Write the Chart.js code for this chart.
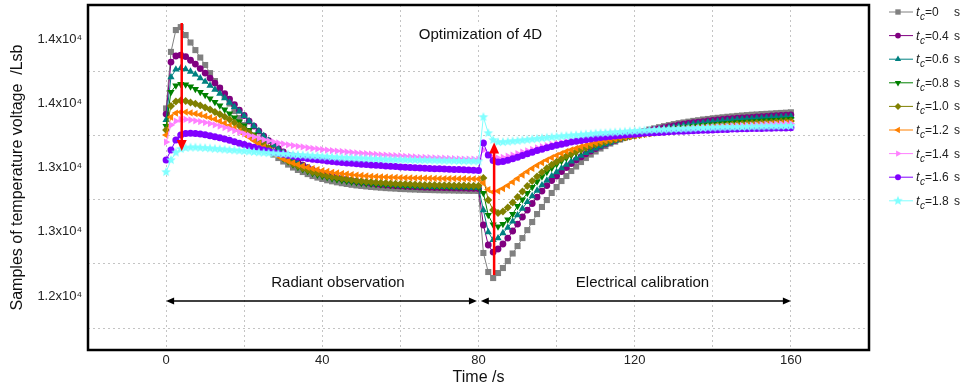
<!DOCTYPE html>
<html>
<head>
<meta charset="utf-8">
<script src="https://cdn.jsdelivr.net/npm/chart.js@4.4.0/dist/chart.umd.min.js"></script>
<style>
  html, body { margin: 0; padding: 0; background: #fff; }
  #wrap { width: 963px; height: 391px; }
</style>
</head>
<body>
<div id="wrap"><canvas id="chart" width="963" height="391"></canvas></div>
<script>
// temps (s), un echantillon toutes les 1.25 s
const times = [0,1.25,2.5,3.75,5,6.25,7.5,8.75,10,11.25,12.5,13.75,15,16.25,17.5,18.75,20,21.25,22.5,23.75,25,26.25,27.5,28.75,30,31.25,32.5,33.75,35,36.25,37.5,38.75,40,41.25,42.5,43.75,45,46.25,47.5,48.75,50,51.25,52.5,53.75,55,56.25,57.5,58.75,60,61.25,62.5,63.75,65,66.25,67.5,68.75,70,71.25,72.5,73.75,75,76.25,77.5,78.75,80,81.25,82.5,83.75,85,86.25,87.5,88.75,90,91.25,92.5,93.75,95,96.25,97.5,98.75,100,101.25,102.5,103.75,105,106.25,107.5,108.75,110,111.25,112.5,113.75,115,116.25,117.5,118.75,120,121.25,122.5,123.75,125,126.25,127.5,128.75,130,131.25,132.5,133.75,135,136.25,137.5,138.75,140,141.25,142.5,143.75,145,146.25,147.5,148.75,150,151.25,152.5,153.75,155,156.25,157.5,158.75,160];

const tcLabels = ['0', '0.4', '0.6', '0.8', '1.0', '1.2', '1.4', '1.6', '1.8'];

const tc00 = [13460,13900,14070,14093,14031,13973,13914,13856,13798,13735,13673,13615,13556,13498,13440,13385,13331,13284,13241,13202,13167,13132,13101,13074,13047,13023,13000,12981,12965,12949,12934,12922,12911,12901,12893,12885,12878,12872,12866,12861,12857,12853,12849,12846,12843,12840,12838,12836,12833,12832,12830,12829,12827,12826,12825,12824,12823,12822,12822,12821,12820,12820,12819,12819,12818,
  12335,12187,12140,12179,12218,12272,12331,12389,12451,12513,12576,12638,12693,12747,12802,12848,12895,12934,12973,13008,13043,13074,13101,13125,13148,13167,13187,13202,13218,13233,13249,13261,13272,13284,13296,13305,13314,13322,13330,13338,13345,13351,13357,13363,13368,13374,13378,13383,13387,13391,13395,13398,13402,13405,13408,13411,13413,13416,13418,13420,13423,13425,13427,13430];
const tc04 = [13416,13821,13868,13875,13864,13835,13805,13770,13735,13696,13657,13619,13576,13533,13490,13447,13405,13362,13323,13284,13245,13210,13179,13148,13121,13093,13066,13043,13019,13000,12982,12966,12953,12942,12931,12921,12913,12905,12898,12892,12886,12881,12876,12872,12868,12865,12862,12859,12857,12854,12852,12851,12849,12847,12846,12844,12844,12843,12842,12841,12840,12840,12839,12838,12837,
  12553,12397,12342,12366,12405,12451,12506,12560,12615,12669,12720,12770,12817,12860,12899,12934,12969,13000,13031,13058,13083,13107,13128,13148,13166,13183,13198,13212,13226,13237,13248,13258,13269,13278,13287,13296,13303,13311,13318,13325,13331,13338,13343,13349,13353,13358,13363,13367,13371,13374,13378,13381,13384,13387,13389,13391,13394,13396,13398,13401,13403,13405,13408,13410];
const tc06 = [13370,13704,13763,13774,13766,13747,13724,13696,13669,13638,13607,13576,13541,13506,13471,13436,13401,13362,13323,13284,13245,13210,13175,13144,13113,13086,13058,13035,13013,12995,12977,12963,12949,12938,12928,12918,12911,12904,12897,12892,12887,12883,12879,12875,12872,12868,12866,12864,12861,12859,12858,12856,12855,12853,12852,12851,12851,12850,12849,12848,12847,12847,12846,12846,12845,
  12669,12498,12436,12451,12490,12533,12580,12630,12681,12732,12778,12821,12862,12899,12934,12965,12995,13022,13048,13071,13093,13113,13132,13149,13165,13180,13194,13208,13220,13232,13243,13253,13262,13272,13280,13288,13296,13303,13310,13316,13322,13328,13333,13339,13343,13348,13353,13356,13360,13364,13367,13370,13374,13377,13379,13381,13384,13386,13388,13391,13393,13394,13396,13398];
const tc08 = [13323,13588,13638,13650,13646,13630,13611,13588,13564,13537,13510,13482,13451,13420,13389,13358,13327,13292,13257,13222,13187,13156,13125,13097,13070,13047,13023,13004,12986,12970,12956,12944,12933,12924,12915,12907,12900,12894,12889,12884,12880,12876,12873,12870,12868,12865,12863,12861,12860,12858,12857,12856,12855,12855,12854,12853,12852,12852,12851,12851,12851,12851,12850,12850,12849,
  12802,12630,12556,12541,12560,12595,12638,12700,12751,12802,12848,12891,12930,12965,12996,13025,13051,13074,13095,13114,13132,13149,13163,13177,13189,13201,13212,13222,13231,13240,13248,13256,13263,13270,13276,13283,13288,13293,13299,13304,13308,13313,13317,13321,13325,13328,13332,13335,13338,13342,13345,13348,13351,13353,13356,13358,13360,13363,13365,13367,13370,13372,13374,13377];
const tc10 = [13292,13479,13514,13521,13518,13507,13496,13482,13467,13451,13433,13415,13395,13373,13349,13325,13298,13270,13241,13212,13182,13153,13125,13099,13074,13051,13030,13012,12995,12980,12966,12955,12945,12935,12927,12920,12914,12908,12903,12898,12894,12890,12887,12884,12881,12879,12876,12874,12872,12871,12869,12868,12866,12865,12865,12864,12863,12862,12862,12861,12860,12860,12859,12859,12858,
  12918,12747,12669,12646,12658,12689,12728,12770,12813,12856,12895,12931,12963,12994,13021,13046,13068,13089,13107,13124,13140,13154,13167,13179,13190,13200,13209,13218,13226,13234,13241,13248,13254,13261,13266,13272,13277,13282,13286,13291,13296,13300,13303,13307,13311,13315,13318,13321,13325,13328,13331,13334,13337,13339,13342,13344,13346,13349,13351,13353,13356,13358,13360,13363];
const tc12 = [13253,13393,13424,13432,13432,13426,13419,13411,13401,13389,13376,13361,13345,13326,13306,13284,13261,13236,13210,13184,13158,13133,13110,13088,13068,13051,13036,13023,13012,13002,12992,12984,12976,12970,12963,12958,12953,12949,12945,12941,12938,12935,12932,12930,12928,12926,12924,12923,12921,12920,12919,12918,12918,12917,12916,12915,12914,12914,12914,12914,12913,12913,12912,12912,12911,
  12879,12829,12809,12817,12836,12860,12887,12914,12942,12968,12993,13016,13038,13058,13077,13094,13110,13125,13138,13150,13162,13173,13183,13192,13201,13209,13217,13224,13231,13237,13243,13249,13254,13260,13265,13269,13274,13278,13282,13286,13289,13293,13296,13299,13302,13305,13308,13311,13313,13315,13318,13320,13322,13325,13327,13329,13332,13334,13336,13339,13341,13343,13346,13348];
const tc14 = [13198,13331,13362,13374,13374,13370,13364,13358,13350,13342,13332,13322,13311,13300,13287,13275,13262,13250,13238,13227,13217,13208,13199,13191,13184,13177,13171,13165,13160,13154,13149,13145,13140,13136,13132,13128,13125,13121,13118,13114,13111,13108,13105,13102,13099,13097,13094,13092,13090,13087,13085,13083,13080,13079,13077,13076,13074,13073,13071,13069,13068,13066,13065,13065,13064,
  13136,13097,13078,13074,13079,13088,13097,13108,13119,13130,13141,13152,13162,13171,13180,13188,13196,13203,13210,13216,13223,13228,13233,13239,13244,13248,13253,13257,13261,13265,13269,13272,13275,13278,13281,13284,13287,13290,13293,13296,13298,13300,13303,13305,13307,13310,13312,13314,13317,13319,13321,13324,13325,13327,13328,13330,13331,13333,13335,13336,13338,13339,13341,13342];
const tc16 = [13058,13136,13214,13253,13265,13266,13265,13261,13255,13247,13240,13231,13222,13212,13201,13190,13179,13168,13157,13147,13137,13128,13119,13110,13103,13096,13089,13083,13076,13071,13065,13061,13056,13051,13047,13044,13040,13036,13033,13030,13026,13023,13020,13017,13015,13012,13010,13008,13005,13003,13001,12998,12996,12994,12993,12991,12990,12988,12987,12985,12984,12982,12981,12979,12977,
  13191,13097,13054,13043,13047,13056,13068,13080,13093,13107,13119,13132,13143,13154,13164,13174,13182,13190,13198,13205,13211,13217,13223,13228,13233,13237,13242,13246,13250,13254,13257,13260,13263,13266,13268,13271,13273,13275,13278,13280,13282,13283,13285,13286,13288,13290,13291,13293,13294,13296,13297,13299,13300,13301,13302,13303,13304,13304,13305,13306,13307,13307,13308,13309];
const tc18 = [12965,13058,13117,13144,13153,13156,13156,13154,13152,13149,13146,13143,13140,13137,13134,13131,13128,13125,13121,13118,13115,13112,13110,13107,13105,13103,13100,13098,13096,13093,13091,13089,13086,13084,13082,13079,13077,13075,13074,13072,13071,13069,13068,13066,13065,13063,13062,13061,13061,13060,13059,13058,13057,13057,13056,13055,13054,13053,13053,13052,13051,13050,13050,13049,13048,
  13393,13268,13214,13198,13198,13201,13205,13208,13212,13216,13220,13224,13228,13232,13236,13240,13243,13246,13249,13252,13255,13258,13261,13265,13267,13269,13272,13274,13276,13279,13281,13283,13286,13288,13290,13293,13294,13296,13297,13299,13300,13302,13303,13305,13307,13308,13310,13311,13312,13313,13314,13314,13315,13316,13317,13318,13318,13319,13320,13321,13321,13322,13323,13324];

const allSeries = [tc00, tc04, tc06, tc08, tc10, tc12, tc14, tc16, tc18];

// graduations
const xTickValues = [0, 40, 80, 120, 160];
const xTickLabels = ['0', '40', '80', '120', '160'];
const xGridValues = [0, 20, 40, 60, 80, 100, 120, 140, 160];
const yTickValues = [12000, 12500, 13000, 13500, 14000];
const yTickLabels = ['1.2x10\u2074', '1.3x10\u2074', '1.3x10\u2074', '1.4x10\u2074', '1.4x10\u2074'];
const yGridValues = [11750, 12250, 12750, 13250, 13750];

// annotations (coordonnees en unites des axes)
const redArrowX = [4, 84];
const redArrowFrom = [14125, 12163];
const redArrowTo = [13128, 13195];
const spanStart = [0, 80.6];
const spanEnd = [79.6, 160];
const spanLevel = 11962;
const spanText = ['Radiant observation', 'Electrical calibration'];
const spanTextX = [44, 122];
const spanTextY = 12105;
const titleText = 'Optimization of 4D';
const titleX = 80.5;
const titleY = 14030;

// styles
const colors = ['#808080', '#800080', '#008080', '#008000', '#808000', '#ff8000', '#ff80ff', '#8000ff', '#80ffff'];
const FONT = '"Liberation Sans", Arial, sans-serif';

function starMarker(color, r) {
    const s = Math.ceil(r * 2 + 2);
    const c = document.createElement('canvas');
    c.width = s; c.height = s;
    const g = c.getContext('2d');
    g.fillStyle = color;
    g.beginPath();
    for (let i = 0; i < 10; i++) {
        const a = -Math.PI / 2 + i * Math.PI / 5;
        const rr = i % 2 ? r * 0.45 : r;
        g.lineTo(s / 2 + rr * Math.cos(a), s / 2 + rr * Math.sin(a));
    }
    g.closePath();
    g.fill();
    return c;
}

const markers = [
    { style: 'rect', rot: 0, r: 4.3 },
    { style: 'circle', rot: 0, r: 3.4 },
    { style: 'triangle', rot: 0, r: 4.2 },
    { style: 'triangle', rot: 180, r: 4.2 },
    { style: 'rectRot', rot: 0, r: 4 },
    { style: 'triangle', rot: -90, r: 4.2 },
    { style: 'triangle', rot: 90, r: 4.2 },
    { style: 'circle', rot: 0, r: 3.5 },
    { style: starMarker('#80ffff', 5), rot: 0, r: 5 }
];

const datasets = allSeries.map((serie, k) => ({
    label: 'tc=' + tcLabels[k],
    data: serie.map((v, i) => ({ x: times[i], y: v })),
    borderColor: colors[k],
    backgroundColor: colors[k],
    borderWidth: 1,
    pointStyle: markers[k].style,
    pointRotation: markers[k].rot,
    pointRadius: markers[k].r,
    pointBorderWidth: 0,
    tension: 0,
    order: 9 - k
}));

function arrowHead(ctx, x, y, ang, len, half) {
    ctx.beginPath();
    ctx.moveTo(x, y);
    ctx.lineTo(x - len * Math.cos(ang) + half * Math.sin(ang), y - len * Math.sin(ang) - half * Math.cos(ang));
    ctx.lineTo(x - len * Math.cos(ang) - half * Math.sin(ang), y - len * Math.sin(ang) + half * Math.cos(ang));
    ctx.closePath();
    ctx.fill();
}

function textBox(ctx, txt, x, y) {
    const w = ctx.measureText(txt).width;
    ctx.fillStyle = '#fff';
    ctx.fillRect(x - w / 2 - 3, y - 10, w + 6, 20);
    ctx.fillStyle = '#111';
    ctx.fillText(txt, x, y);
}

const decor = {
    id: 'decor',
    beforeDatasetsDraw(chart) {
        const ctx = chart.ctx, xs = chart.scales.x, ys = chart.scales.y;
        ctx.save();
        ctx.font = '15px ' + FONT;
        ctx.textAlign = 'center';
        ctx.textBaseline = 'middle';
        textBox(ctx, titleText, xs.getPixelForValue(titleX), ys.getPixelForValue(titleY));
        spanText.forEach((t, i) => textBox(ctx, t, xs.getPixelForValue(spanTextX[i]), ys.getPixelForValue(spanTextY)));
        // fleches doubles
        ctx.strokeStyle = '#000';
        ctx.fillStyle = '#000';
        ctx.lineWidth = 1.5;
        const yl = ys.getPixelForValue(spanLevel);
        spanStart.forEach((s, i) => {
            const a = xs.getPixelForValue(s), b = xs.getPixelForValue(spanEnd[i]);
            ctx.beginPath();
            ctx.moveTo(a + 4, yl);
            ctx.lineTo(b - 4, yl);
            ctx.stroke();
            arrowHead(ctx, a, yl, Math.PI, 8, 3.5);
            arrowHead(ctx, b, yl, 0, 8, 3.5);
        });
        ctx.restore();
    },
    afterDatasetsDraw(chart) {
        const ctx = chart.ctx, xs = chart.scales.x, ys = chart.scales.y;
        ctx.save();
        ctx.strokeStyle = '#ff0000';
        ctx.fillStyle = '#ff0000';
        ctx.lineWidth = 2.5;
        redArrowX.forEach((xv, i) => {
            const x = xs.getPixelForValue(xv);
            const y1 = ys.getPixelForValue(redArrowFrom[i]);
            const y2 = ys.getPixelForValue(redArrowTo[i]);
            const dir = y2 > y1 ? 1 : -1;
            ctx.beginPath();
            ctx.moveTo(x, y1);
            ctx.lineTo(x, y2 - dir * 8);
            ctx.stroke();
            arrowHead(ctx, x, y2, dir * Math.PI / 2, 11, 5);
        });
        ctx.restore();
    },
    afterDraw(chart) {
        const ctx = chart.ctx, a = chart.chartArea;
        ctx.save();
        ctx.strokeStyle = '#000';
        ctx.lineWidth = 2.5;
        ctx.strokeRect(a.left, a.top, a.right - a.left, a.bottom - a.top);
        // legende
        const lx0 = 889, lx1 = 913, mx = 898;
        tcLabels.forEach((lab, k) => {
            const y = 12 + k * 23.6;
            ctx.strokeStyle = colors[k];
            ctx.fillStyle = colors[k];
            ctx.lineWidth = 1;
            ctx.beginPath();
            ctx.moveTo(lx0, y);
            ctx.lineTo(lx1, y);
            ctx.stroke();
            Chart.helpers.drawPoint(ctx, {
                pointStyle: markers[k].style, rotation: markers[k].rot,
                radius: markers[k].r - 0.5, borderWidth: 0
            }, mx, y);
            ctx.fillStyle = '#222';
            ctx.textBaseline = 'alphabetic';
            ctx.textAlign = 'left';
            ctx.font = 'italic 13px ' + FONT;
            ctx.fillText('t', 916, y + 4);
            ctx.font = 'italic 10px ' + FONT;
            ctx.fillText('c', 920, y + 8);
            ctx.font = '12px ' + FONT;
            ctx.fillText('=' + lab, 925, y + 4);
            ctx.fillText('s', 954, y + 4);
        });
        ctx.restore();
    }
};

new Chart(document.getElementById('chart').getContext('2d'), {
    type: 'line',
    data: { datasets: datasets },
    plugins: [decor],
    options: {
        responsive: false,
        animation: false,
        layout: { padding: { left: 0, right: 94, top: 5, bottom: 0 } },
        plugins: { legend: { display: false }, tooltip: { enabled: false } },
        scales: {
            x: {
                type: 'linear',
                min: -20,
                max: 180,
                afterBuildTicks: s => { s.ticks = xGridValues.map(v => ({ value: v })); },
                afterFit: s => { s.height = 41; s.paddingLeft = 0; s.paddingRight = 0; },
                grid: { color: '#c4c4c4', lineWidth: 1, drawTicks: false },
                border: { display: false, dash: [2, 3] },
                ticks: {
                    autoSkip: false, maxRotation: 0, padding: 3,
                    color: '#222', font: { size: 13, family: FONT },
                    callback: v => { const i = xTickValues.indexOf(v); return i >= 0 ? xTickLabels[i] : ''; }
                },
                title: {
                    display: true, text: 'Time /s', color: '#111',
                    font: { size: 16, family: FONT }, padding: { top: 0, bottom: 4 }
                }
            },
            y: {
                type: 'linear',
                min: 11580,
                max: 14265,
                afterBuildTicks: s => {
                    s.ticks = yGridValues.concat(yTickValues).sort((a, b) => a - b).map(v => ({ value: v }));
                },
                afterFit: s => { s.width = 88; s.paddingTop = 0; s.paddingBottom = 0; },
                grid: {
                    color: c => yGridValues.includes(c.tick.value) ? '#c4c4c4' : 'rgba(0,0,0,0)',
                    lineWidth: 1, drawTicks: false
                },
                border: { display: false, dash: [2, 3] },
                ticks: {
                    autoSkip: false, padding: 6,
                    color: '#222', font: { size: 13, family: FONT },
                    callback: v => { const i = yTickValues.indexOf(v); return i >= 0 ? yTickLabels[i] : ''; }
                },
                title: {
                    display: true, text: 'Samples of temperature voltage  /Lsb', color: '#111',
                    font: { size: 16, family: FONT }, padding: { top: 8, bottom: 0 }
                }
            }
        }
    }
});
</script>
</body>
</html>
